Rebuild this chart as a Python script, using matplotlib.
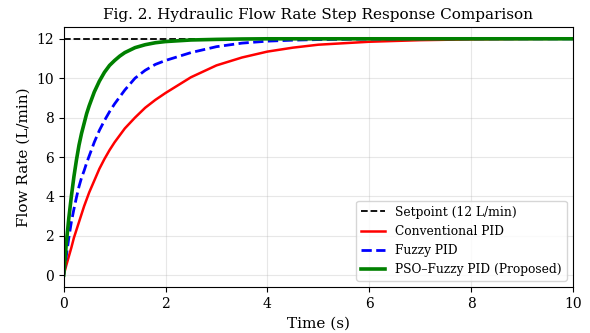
import matplotlib
matplotlib.use("Agg")
import matplotlib.pyplot as plt

plt.rcParams['font.family'] = ['DejaVu Serif']

# time points (s) and flow rates (L/min)
t = [0, 0.05, 0.1, 0.15, 0.2, 0.25, 0.3, 0.35, 0.4, 0.45, 0.5, 0.6, 0.7, 0.8, 0.9,
     1.0, 1.1, 1.2, 1.4, 1.6, 1.8, 2.0, 2.5, 3.0, 3.5, 4.0, 4.5, 5.0, 6.0, 7.0, 8.0, 9.0, 10.0]
conventional = [0, 0.5, 0.95, 1.4, 1.9, 2.3, 2.7, 3.1, 3.5, 3.85, 4.2, 4.8, 5.4, 5.9, 6.35,
                6.75, 7.1, 7.45, 8.0, 8.5, 8.9, 9.25, 10.05, 10.65, 11.05, 11.35, 11.55, 11.7,
                11.85, 11.93, 11.97, 11.99, 12.0]
fuzzy = [0, 0.95, 1.9, 2.7, 3.35, 3.95, 4.5, 4.95, 5.3, 5.7, 6.05, 6.75, 7.35, 7.85, 8.3,
         8.7, 9.05, 9.4, 10.0, 10.4, 10.7, 10.9, 11.3, 11.6, 11.78, 11.88, 11.93, 11.96,
         11.99, 12.0, 12.0, 12.0, 12.0]
pso_fuzzy = [0, 1.6, 2.9, 4.0, 5.0, 5.85, 6.6, 7.2, 7.7, 8.2, 8.6, 9.3, 9.85, 10.3, 10.65,
             10.9, 11.12, 11.3, 11.55, 11.7, 11.8, 11.86, 11.94, 11.97, 11.99, 12.0, 12.0,
             12.0, 12.0, 12.0, 12.0, 12.0, 12.0]
setpoint = 12

fig = plt.figure(figsize=(5.9, 3.33), dpi=100)
ax = fig.add_axes([0.108, 0.138, 0.863, 0.781])

ax.plot([t[0], t[-1]], [setpoint, setpoint], 'k--', lw=1.3, label="Setpoint (12 L/min)")
ax.plot(t, conventional, color="red", lw=1.8, label="Conventional PID")
ax.plot(t, fuzzy, color="blue", ls="--", lw=2.0, label="Fuzzy PID")
ax.plot(t, pso_fuzzy, color="green", lw=2.6, label="PSO\u2013Fuzzy PID (Proposed)")

ax.set_xlim(0, 10)
ax.set_ylim(-0.6, 12.6)
ax.set_xticks([0, 2, 4, 6, 8, 10])
ax.set_yticks([0, 2, 4, 6, 8, 10, 12])
ax.tick_params(labelsize=10)
ax.grid(True, alpha=0.3)
ax.set_xlabel("Time (s)", fontsize=11)
ax.set_ylabel("Flow Rate (L/min)", fontsize=11)
ax.set_title("Fig. 2. Hydraulic Flow Rate Step Response Comparison", fontsize=11)
ax.legend(loc="lower right", fontsize=8.8)

fig.savefig("out.png", dpi=100)
